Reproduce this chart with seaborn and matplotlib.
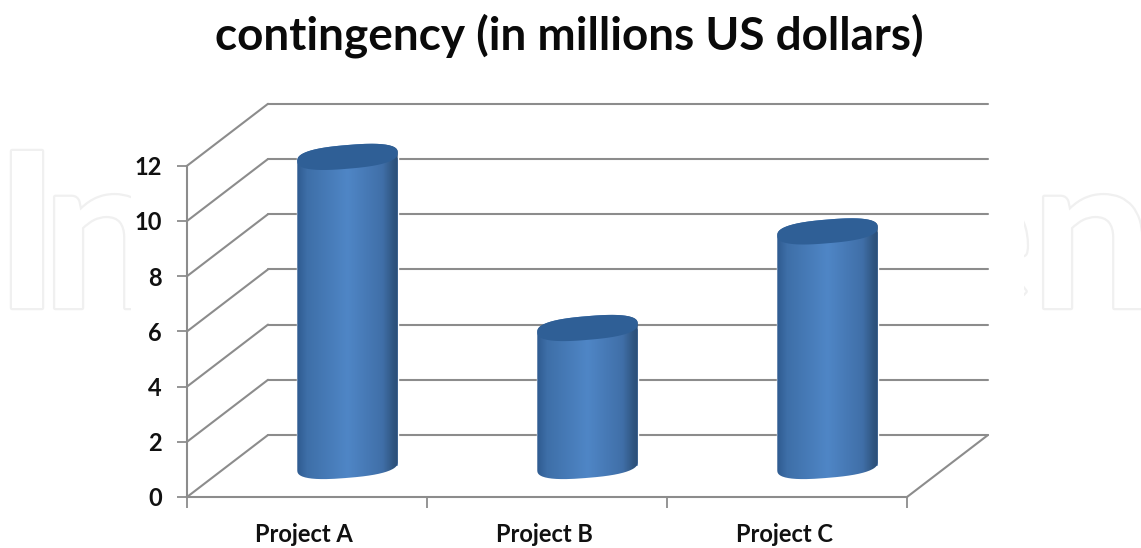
import numpy as np
import pandas as pd
import matplotlib
matplotlib.use("Agg")
import matplotlib.pyplot as plt
import seaborn as sns
from matplotlib.colors import LinearSegmentedColormap
from matplotlib.patches import Rectangle
from matplotlib.path import Path
from matplotlib.transforms import Affine2D
import matplotlib.patheffects as pe

# Chart data
projects = ["Project A", "Project B", "Project C"]
contingency = [11.2, 5.0, 8.5]
value_ticks = [0, 2, 4, 6, 8, 10, 12]
title_text = "contingency (in millions US dollars)"

# Pixel geometry of the plotting frame
FIG_W, FIG_H = 1141, 548
PX_PER_CAT = 240.0
PX_PER_UNIT = 27.6
LEFT_PX = 187.0
BASE_PX = 497.0

# Oblique depth of the 3-D box, in data units
DEPTH_X = 81 / PX_PER_CAT
DEPTH_Y = 62 / PX_PER_UNIT
BAR_WIDTH = 0.4185
CAP_B = 0.43       # vertical semi-axis of the cylinder ends
CAP_TILT = 0.15    # rise of the ends from centre to right edge
ROUND = 0.78       # exponent that squares off the ends slightly

GRID = "#8c8c8c"
TEXT = "#111111"

sns.set_theme(style="white")
plt.rcParams["font.family"] = ["Lato", "DejaVu Sans"]

fig = plt.figure(figsize=(FIG_W / 100, FIG_H / 100), dpi=100)
ax = fig.add_axes([0, 0, 1, 1])
ax.patch.set_facecolor("white")

df = pd.DataFrame({"project": projects, "contingency": contingency})
sns.barplot(data=df, x="project", y="contingency", width=BAR_WIDTH,
            color="#4a7dba", saturation=1, ax=ax, zorder=3)

ax.set_xlim(-0.5 - LEFT_PX / PX_PER_CAT, -0.5 + (FIG_W - LEFT_PX) / PX_PER_CAT)
ax.set_ylim(-(FIG_H - BASE_PX) / PX_PER_UNIT, BASE_PX / PX_PER_UNIT)
ax.set_xlabel("")
ax.set_ylabel("")
xlim, ylim = ax.get_xlim(), ax.get_ylim()

# Outlined wordmark in the page margins, masked behind the chart
wm = dict(transform=ax.transAxes, fontsize=156, fontweight="bold", color="white",
          va="baseline", zorder=0,
          path_effects=[pe.withStroke(linewidth=3.2, foreground="#f0f0f0")])
for glyph, left_px in (("I", -5), ("n", 42), ("e", 918), ("n", 1031)):
    ax.text(left_px / FIG_W, 1 - 308 / FIG_H, glyph, ha="left", **wm)
ax.add_patch(Rectangle((131 / FIG_W, 0), (1024 - 131) / FIG_W, 1,
                       transform=ax.transAxes, fc="white", ec="none", zorder=0.5))

# Back wall and side-wall gridlines
x0, x1 = -0.5, 2.5
for v in value_ticks:
    ax.plot([x0, x0 + DEPTH_X], [v, v + DEPTH_Y], color=GRID, lw=1.5, zorder=1)
    ax.plot([x0 + DEPTH_X, x1 + DEPTH_X], [v + DEPTH_Y, v + DEPTH_Y],
            color=GRID, lw=1.5, zorder=1)
ax.plot([x1, x1 + DEPTH_X], [0, DEPTH_Y], color=GRID, lw=1.5, zorder=1)

# Cylinders: each seaborn bar is moved to mid-depth and dressed with a shaded body
side_cmap = LinearSegmentedColormap.from_list(
    "cyl", [(0.0, "#2f5b90"), (0.10, "#3e6fa8"), (0.5, "#4f86c6"),
            (0.85, "#406fa8"), (0.96, "#2f5580"), (1.0, "#2b4e78")])
theta_upper = np.linspace(np.pi, 0, 80)
theta_lower = np.linspace(0, -np.pi, 80)
to_middle = Affine2D().translate(DEPTH_X / 2, DEPTH_Y / 2) + ax.transData
shade = np.linspace(0, 1, 256)[None, :]
for bar in ax.patches:
    if bar.get_zorder() != 3:
        continue
    bar.set_transform(to_middle)
    cx = bar.get_x() + bar.get_width() / 2 + DEPTH_X / 2
    a = bar.get_width() / 2
    top = bar.get_height() + DEPTH_Y / 2
    base = DEPTH_Y / 2

    def rim(theta, cy):
        c, s = np.cos(theta), np.sin(theta)
        u = np.sign(c) * np.abs(c) ** ROUND
        w = np.sign(s) * np.abs(s) ** ROUND
        return np.column_stack([cx + a * u, cy + CAP_TILT * u + CAP_B * w])

    outline = np.vstack([rim(theta_upper, top), rim(theta_lower, base),
                         rim(theta_upper[:1], top)])
    body = ax.imshow(shade, cmap=side_cmap, extent=(cx - a, cx + a, base - 1, top + 1),
                     aspect="auto", interpolation="bilinear", zorder=4)
    body.set_clip_path(Path(outline), transform=ax.transData)
    ring = rim(np.linspace(0, 2 * np.pi, 160), top)
    ax.fill(ring[:, 0], ring[:, 1], color="#2f5f96", lw=0, zorder=5)

ax.set_xlim(xlim)
ax.set_ylim(ylim)

# Axis frame
for side in ("top", "right"):
    ax.spines[side].set_visible(False)
for side in ("left", "bottom"):
    ax.spines[side].set_color(GRID)
    ax.spines[side].set_linewidth(1.5)
ax.spines["left"].set_position(("data", x0))
ax.spines["left"].set_bounds(0, max(value_ticks))
ax.spines["bottom"].set_position(("data", 0))
ax.spines["bottom"].set_bounds(x0, x1)

ax.set_yticks(value_ticks)
ax.set_yticklabels([str(v) for v in value_ticks])
ax.tick_params(axis="y", length=7, width=1.3, color=GRID, pad=11,
               labelsize=17, labelcolor=TEXT, left=True)
ax.set_xticks([-0.5, 0.5, 1.5, 2.5])
ax.set_xticklabels([])
ax.set_xticks(np.arange(len(projects)) - 0.012, labels=projects, minor=True)
ax.tick_params(axis="x", which="major", length=8, width=1.3, color=GRID, bottom=True)
ax.tick_params(axis="x", which="minor", length=0, pad=18.5, labelsize=17, labelcolor=TEXT)
for label in ax.get_xticklabels(minor=True) + ax.get_yticklabels():
    label.set_fontweight("bold")

ax.text(569 / FIG_W, 1 - 36 / FIG_H, title_text, transform=ax.transAxes, ha="center",
        va="center", fontsize=33, fontweight="bold", color="#0a0a0a", zorder=6)

fig.savefig("out.png", dpi=100)
